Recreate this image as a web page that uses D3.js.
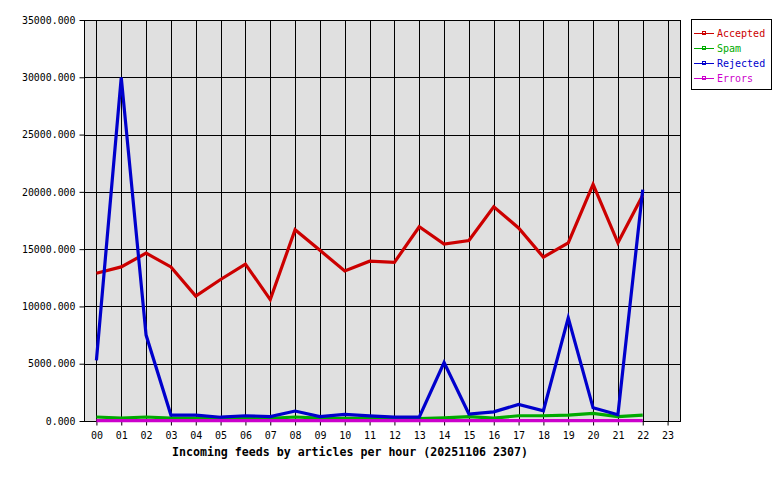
<!DOCTYPE html>
<html>
<head>
<meta charset="utf-8">
<script src="https://cdn.jsdelivr.net/npm/d3@7"></script>
<style>
  body { margin: 0; background: #fff; }
  svg { display: block; }
  text { font-family: "DejaVu Sans Mono", "Liberation Mono", monospace; }
</style>
</head>
<body>
<div id="chart"></div>
<script>
// hourly counts, 00..22 (hour 23 not yet in)
var hours = ["00","01","02","03","04","05","06","07","08","09","10","11",
             "12","13","14","15","16","17","18","19","20","21","22","23"];
var accepted = [12900, 13450, 14650, 13450, 10900, 12350, 13700, 10600, 16700, 14900, 13100, 13950,
                13850, 16950, 15450, 15750, 18700, 16850, 14300, 15550, 20650, 15550, 19700];
var spam     = [350, 250, 350, 250, 250, 250, 250, 230, 350, 250, 230, 230,
                170, 200, 280, 380, 250, 460, 460, 520, 660, 380, 520];
var rejected = [5300, 30000, 7500, 520, 520, 330, 460, 390, 870, 390, 580, 440,
                330, 330, 5100, 610, 800, 1450, 900, 9000, 1150, 550, 20200];
var errors   = [30, 30, 30, 30, 30, 30, 30, 30, 30, 30, 30, 30,
                30, 30, 30, 30, 30, 30, 30, 30, 30, 30, 30];
var yTicks = [0, 5000, 10000, 15000, 20000, 25000, 30000, 35000];
var seriesNames = ["Accepted", "Spam", "Rejected", "Errors"];
var seriesColors = ["#cc0000", "#00aa00", "#0000cc", "#cc00cc"];

var width = 780, height = 480;
var plotLeft = 84, plotRight = 680, plotTop = 20, plotBottom = 421;

var svg = d3.select("#chart").append("svg")
    .attr("width", width)
    .attr("height", height);

var x = d3.scaleLinear().domain([-0.5, 23.5]).range([plotLeft, plotRight]);
var y = d3.scaleLinear().domain([0, 35000]).range([plotBottom, plotTop]);

// plot background
svg.append("rect")
    .attr("x", plotLeft).attr("y", plotTop)
    .attr("width", plotRight - plotLeft).attr("height", plotBottom - plotTop)
    .attr("fill", "#e0e0e0");

// grid
svg.append("g").selectAll("line.v")
    .data(hours)
    .enter().append("line")
    .attr("x1", function (d, i) { return Math.round(x(i)) + 0.5; })
    .attr("x2", function (d, i) { return Math.round(x(i)) + 0.5; })
    .attr("y1", plotTop).attr("y2", plotBottom)
    .attr("stroke", "#000").attr("shape-rendering", "crispEdges");

svg.append("g").selectAll("line.h")
    .data(yTicks)
    .enter().append("line")
    .attr("x1", plotLeft).attr("x2", plotRight)
    .attr("y1", function (d) { return Math.round(y(d)) + 0.5; })
    .attr("y2", function (d) { return Math.round(y(d)) + 0.5; })
    .attr("stroke", "#000").attr("shape-rendering", "crispEdges");

// frame
svg.append("rect")
    .attr("x", plotLeft + 0.5).attr("y", plotTop + 0.5)
    .attr("width", plotRight - plotLeft).attr("height", plotBottom - plotTop)
    .attr("fill", "none").attr("stroke", "#000")
    .attr("shape-rendering", "crispEdges");

// axes
var xAxis = d3.axisBottom(x)
    .tickValues(d3.range(hours.length))
    .tickFormat(function (d) { return hours[d]; })
    .tickSize(4).tickPadding(6);
var gx = svg.append("g")
    .attr("transform", "translate(0," + (plotBottom + 0.5) + ")")
    .call(xAxis);
gx.select(".domain").remove();
gx.selectAll("text").attr("font-size", "10px").attr("fill", "#000")
    .style("font-family", "'DejaVu Sans Mono', monospace");

var yAxis = d3.axisLeft(y)
    .tickValues(yTicks)
    .tickFormat(d3.format(".3f"))
    .tickSize(5).tickPadding(4);
var gy = svg.append("g")
    .attr("transform", "translate(" + (plotLeft + 0.5) + ",0)")
    .call(yAxis);
gy.select(".domain").remove();
gy.selectAll("text").attr("font-size", "9.9px").attr("fill", "#000")
    .style("font-family", "'DejaVu Sans Mono', monospace");

// series lines
var line = d3.line()
    .x(function (d, i) { return x(i); })
    .y(function (d) { return y(d); });

var allSeries = [accepted, spam, rejected, errors];
svg.append("g").selectAll("path")
    .data(allSeries)
    .enter().append("path")
    .attr("d", function (d) { return line(d); })
    .attr("fill", "none")
    .attr("stroke", function (d, i) { return seriesColors[i]; })
    .attr("stroke-width", 3.2)
    .attr("stroke-linejoin", "miter");

// title
svg.append("text")
    .attr("x", (plotLeft + plotRight) / 2 - 32)
    .attr("y", 456)
    .attr("text-anchor", "middle")
    .attr("font-size", "11.6px")
    .attr("font-weight", "bold")
    .text("Incoming feeds by articles per hour (20251106 2307)");

// legend
var legend = svg.append("g");
legend.append("rect")
    .attr("x", 691.5).attr("y", 19.5)
    .attr("width", 80).attr("height", 70)
    .attr("fill", "#fff").attr("stroke", "#000")
    .attr("shape-rendering", "crispEdges");

var item = legend.selectAll("g.item")
    .data(seriesNames)
    .enter().append("g")
    .attr("transform", function (d, i) { return "translate(0," + (33 + i * 15) + ")"; });

item.append("line")
    .attr("x1", 694).attr("x2", 714)
    .attr("y1", 0.5).attr("y2", 0.5)
    .attr("stroke", function (d, i) { return seriesColors[i]; })
    .attr("shape-rendering", "crispEdges");
item.append("rect")
    .attr("x", 702.5).attr("y", -1.5)
    .attr("width", 3).attr("height", 3)
    .attr("fill", "none")
    .attr("stroke", function (d, i) { return seriesColors[i]; })
    .attr("shape-rendering", "crispEdges");
item.append("text")
    .attr("x", 717).attr("y", 4)
    .attr("font-size", "10px")
    .attr("fill", function (d, i) { return seriesColors[i]; })
    .text(function (d) { return d; });
</script>
</body>
</html>
